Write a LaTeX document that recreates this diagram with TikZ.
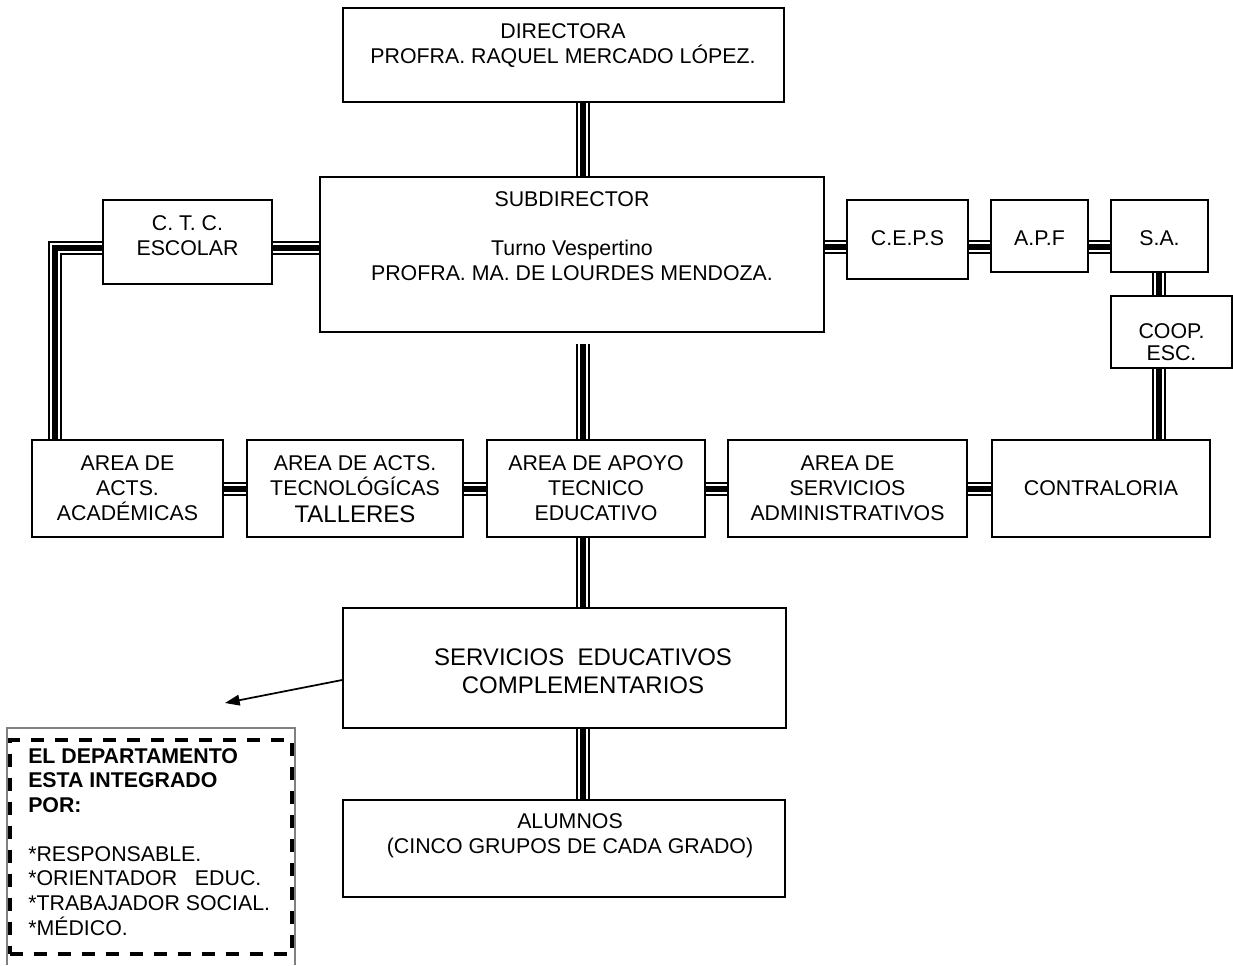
\documentclass[tikz,border=0pt]{standalone}
\usepackage{fontspec}
\setmainfont{Liberation Sans}
\usetikzlibrary{fit,arrows.meta}
\begin{document}
\begin{tikzpicture}[x=0.75pt,y=-0.75pt,
  box/.style={draw=black, line width=1.3pt, inner sep=0pt, rectangle},
  tri/.style={draw=white, line width=7.5pt,
     preaction={draw=black, line width=10.5pt},
     postaction={draw=black, line width=4.5pt}},
  txt/.style={font=\fontsize{16pt}{18.75pt}\selectfont, align=center, anchor=base, inner sep=0pt},
  txtb/.style={font=\fontsize{18pt}{21pt}\selectfont, align=center, anchor=base, inner sep=0pt},
  dashbox/.style={draw=black, line width=3.4pt, dash pattern=on 9.75pt off 8.25pt, inner sep=0pt, rectangle}
]
\useasboundingbox (0,0) rectangle (1233,965);

% boxes
\node[box, fit={(343,8) (784,102)}] (dir) {};
\node[box, fit={(320,177) (824,332)}] (sub) {};
\node[box, fit={(103,200) (272,284)}] (ctc) {};
\node[box, fit={(847,200) (968,279)}] (ceps) {};
\node[box, fit={(991,200) (1088,272)}] (apf) {};
\node[box, fit={(1111,200) (1208,272)}] (sa) {};
\node[box, fit={(1111,296) (1232,368)}] (coop) {};
\node[box, fit={(32,440) (223,537)}] (acad) {};
\node[box, fit={(247,440) (463,537)}] (tecno) {};
\node[box, fit={(487,440) (705,537)}] (apoyo) {};
\node[box, fit={(728,440) (967,537)}] (sadm) {};
\node[box, fit={(992,440) (1210,537)}] (contra) {};
\node[box, fit={(343,608) (786,728)}] (serv) {};
\node[box, fit={(343,800) (785,897)}] (alum) {};

% texts (anchor = baseline of last line)
\node[txt] (tdir) at (563,63) {DIRECTORA\\PROFRA. RAQUEL MERCADO LÓPEZ.};
\node[txt] (tsub) at (572,280) {SUBDIRECTOR\\[18pt]Turno Vespertino\\PROFRA. MA. DE LOURDES MENDOZA.};
\node[txt] (tctc) at (187.5,255) {C. T. C.\\ESCOLAR};
\node[txt] (tceps) at (907.5,245) {C.E.P.S};
\node[txt] (tapf) at (1039.5,245) {A.P.F};
\node[txt] (tsa) at (1159.5,245) {S.A.};
\node[txt, font=\fontsize{16pt}{16.5pt}\selectfont] (tcoop) at (1171.5,360) {COOP.\\ESC.};
\node[txt] (tacad) at (127.5,520) {AREA DE\\ACTS.\\ACADÉMICAS};
\node[txt] (ttecno) at (355,522) {AREA DE ACTS.\\TECNOLÓGÍCAS\\[1.5pt]{\fontsize{18pt}{19pt}\selectfont TALLERES}};
\node[txt] (tapoyo) at (596,520) {AREA DE APOYO\\TECNICO\\EDUCATIVO};
\node[txt] (tsadm) at (847.5,520) {AREA DE\\SERVICIOS\\ADMINISTRATIVOS};
\node[txt] (tcontra) at (1101,495) {CONTRALORIA};
\node[txtb] (tserv) at (583,693) {SERVICIOS\ \ EDUCATIVOS\\COMPLEMENTARIOS};
\node[txt] (talum) at (570,853) {ALUMNOS\\(CINCO GRUPOS DE CADA GRADO)};

% connectors
\coordinate (xc) at (583,0);
\coordinate (yl) at (0,248);
\coordinate (yr) at (0,247);
\coordinate (xr) at (1159,0);
\coordinate (cL) at (55,248);
\coordinate (gS) at (583,344);
\draw[tri] (dir.south -| xc) -- (sub.north -| xc);
\draw[tri] (gS) -- (apoyo.north -| gS);
\draw[tri] (apoyo.south -| xc) -- (serv.north -| xc);
\draw[tri] (serv.south -| xc) -- (alum.north -| xc);
\draw[tri] (ctc.east |- yl) -- (sub.west |- yl);
\draw[tri] (ctc.west |- yl) -- (cL) -- (cL |- acad.north);
\draw[tri] (sub.east |- yr) -- (ceps.west |- yr);
\draw[tri] (ceps.east |- yr) -- (apf.west |- yr);
\draw[tri] (apf.east |- yr) -- (sa.west |- yr);
\draw[tri] (sa.south -| xr) -- (coop.north -| xr);
\draw[tri] (coop.south -| xr) -- (contra.north -| xr);
\draw[tri] (acad.east) -- (tecno.west);
\draw[tri] (tecno.east) -- (apoyo.west);
\draw[tri] (apoyo.east) -- (sadm.west);
\draw[tri] (sadm.east) -- (contra.west);

% arrow to department box
\coordinate (aS) at (0,680);
\coordinate (aT) at (225,703);
\draw[line width=1.3pt, -{Triangle[length=11pt,width=8pt]}] (serv.west |- aS) -- (aT);

% department box
\draw[draw=gray, line width=0.8pt] (7,965) -- (7,728) -- (295,728) -- (295,965);
\node[dashbox, fit={(10,740) (292,954)}] (dept) {};
\node[font=\fontsize{16pt}{18.4pt}\selectfont, align=left, anchor=base west, inner sep=0pt] (tdept) at (28,935)
 {\textbf{EL DEPARTAMENTO}\\\textbf{ESTA INTEGRADO}\\\textbf{POR:}\\\mbox{}\\*RESPONSABLE.\\*ORIENTADOR\ \ \ EDUC.\\*TRABAJADOR SOCIAL.\\*MÉDICO.};
\end{tikzpicture}
\end{document}
